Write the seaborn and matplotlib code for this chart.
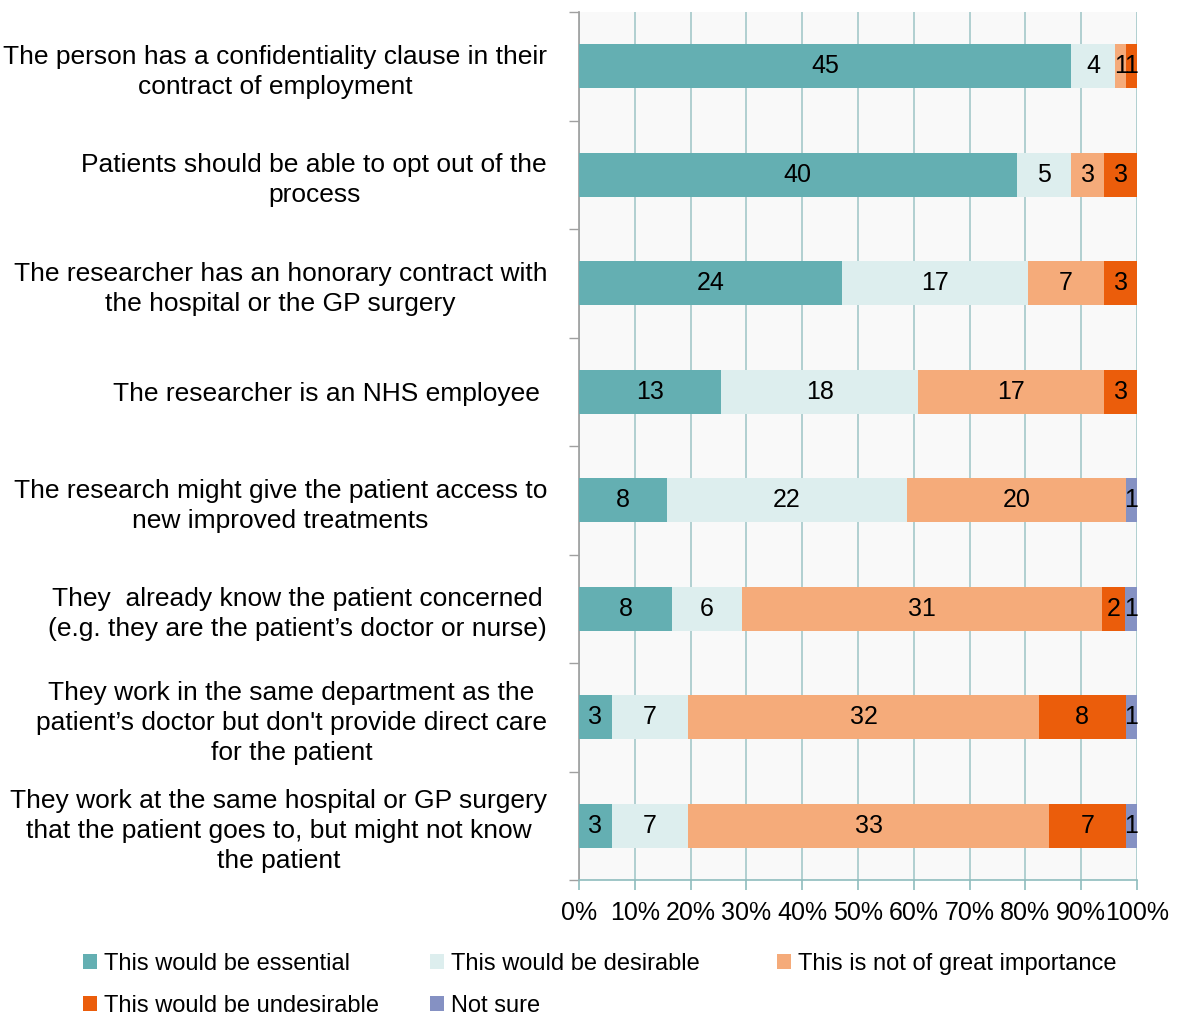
import matplotlib
matplotlib.use("Agg")
import matplotlib.pyplot as plt
import seaborn as sns
import numpy as np
import pandas as pd
from matplotlib.ticker import FixedLocator, PercentFormatter

categories = [
    "The person has a confidentiality clause in their\ncontract of employment",
    "Patients should be able to opt out of the\nprocess",
    "The researcher has an honorary contract with\nthe hospital or the GP surgery",
    "The researcher is an NHS employee ",
    "The research might give the patient access to\nnew improved treatments",
    "They  already know the patient concerned\n(e.g. they are the patient\u2019s doctor or nurse)",
    "They work in the same department as the\npatient\u2019s doctor but don't provide direct care\nfor the patient",
    "They work at the same hospital or GP surgery\nthat the patient goes to, but might not know\nthe patient",
]
series_names = [
    "This would be essential",
    "This would be desirable",
    "This is not of great importance",
    "This would be undesirable",
    "Not sure",
]
essential = [45, 40, 24, 13, 8, 8, 3, 3]
desirable = [4, 5, 17, 18, 22, 6, 7, 7]
not_great = [1, 3, 7, 17, 20, 31, 32, 33]
undesirable = [1, 3, 3, 3, 0, 2, 8, 7]
not_sure = [0, 0, 0, 0, 1, 1, 1, 1]
colors = ["#64afb2", "#ddeeee", "#f5ab7a", "#eb5d0b", "#8591c3"]

FONT = "Liberation Sans"
FS_Y = 19
FS_NUM = 18
FS_TICK = 18
FS_LEG = 17

sns.set_theme(style="white")
plt.rcParams["font.family"] = [FONT, "DejaVu Sans"]
plt.rcParams["text.color"] = "black"
plt.rcParams["xtick.color"] = "black"
plt.rcParams["ytick.color"] = "black"

counts = np.array([essential, desirable, not_great, undesirable, not_sure], dtype=float)
pct = counts / counts.sum(axis=0) * 100
cum = np.cumsum(pct, axis=0)

fig = plt.figure(figsize=(11.87, 10.19), dpi=100)
ax = fig.add_axes([579 / 1187, 1 - 880 / 1019, (1137 - 579) / 1187, (880 - 12) / 1019])
ax.set_facecolor("#f9f9f9")

for i in reversed(range(len(series_names))):
    df = pd.DataFrame({"cat": categories, "val": cum[i]})
    sns.barplot(data=df, x="val", y="cat", order=categories, orient="h",
                color=colors[i], saturation=1, width=0.41, linewidth=0,
                label=series_names[i], ax=ax, zorder=3)

# value labels
for i in range(len(series_names)):
    for j in range(len(categories)):
        v = counts[i, j]
        if v > 0:
            center = cum[i, j] - pct[i, j] / 2
            ax.text(center, j, f"{int(v)}", ha="center", va="center",
                    fontsize=FS_NUM, color="black", zorder=4)

ax.set_xlim(0, 100)
ax.set_ylim(len(categories) - 0.5, -0.5)
ax.set_xlabel("")
ax.set_ylabel("")
ax.xaxis.set_major_locator(FixedLocator(np.arange(0, 101, 10)))
ax.xaxis.set_major_formatter(PercentFormatter(decimals=0))
ax.grid(axis="x", color="#a4c8c9", linewidth=1.2, zorder=0)
ax.grid(axis="y", visible=False)
ax.set_axisbelow(True)

for s in ["top", "right"]:
    ax.spines[s].set_visible(False)
ax.spines["left"].set_color("#a0a0a0")
ax.spines["bottom"].set_color("#8fbcbd")
ax.spines["bottom"].set_linewidth(1.2)

ax.tick_params(axis="x", which="major", direction="out", length=7, width=1.2,
               color="#8fbcbd", labelcolor="black", labelsize=FS_TICK, pad=8, bottom=True)
ax.tick_params(axis="y", which="major", length=0, labelsize=FS_Y, labelcolor="black",
               pad=23, left=False)
ax.yaxis.set_minor_locator(FixedLocator(np.arange(-0.5, len(categories), 1.0)))
ax.tick_params(axis="y", which="minor", direction="out", length=7, width=1,
               color="#a0a0a0", left=True)
for lab in ax.get_yticklabels():
    lab.set_multialignment("center")
    lab.set_linespacing(1.32)

handles, labels = ax.get_legend_handles_labels()
hmap = dict(zip(labels, handles))
if ax.get_legend() is not None:
    ax.get_legend().remove()

leg_pos = {
    series_names[0]: (83, 964),
    series_names[1]: (430, 964),
    series_names[2]: (777, 964),
    series_names[3]: (83, 1006),
    series_names[4]: (430, 1006),
}
for name, (px, py) in leg_pos.items():
    lg = fig.legend([hmap[name]], [name], loc="center left",
                    bbox_to_anchor=(px / 1187, 1 - py / 1019), frameon=False,
                    fontsize=FS_LEG, handlelength=0.6, handleheight=0.6,
                    handletextpad=0.3, borderpad=0, borderaxespad=0)
    for t in lg.get_texts():
        t.set_color("black")

fig.savefig("out.png", dpi=100)
